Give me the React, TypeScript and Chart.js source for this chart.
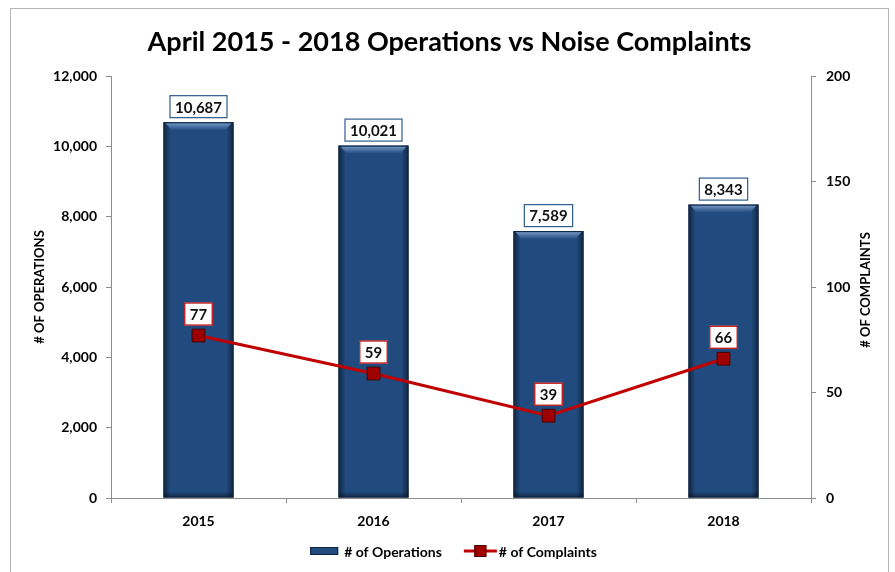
import React, { useEffect, useRef } from 'react';
import { Chart, registerables } from 'chart.js';
Chart.register(...registerables);

const categories = ['2015', '2016', '2017', '2018'];
const operations = [10687, 10021, 7589, 8343];
const complaints = [77, 59, 39, 66];
const opsAxis = { min: 0, max: 12000, step: 2000 };
const complaintsAxis = { min: 0, max: 200, step: 50 };

const titleText = 'April 2015 - 2018 Operations vs Noise Complaints';
const leftTitle = '# OF OPERATIONS';
const rightTitle = '# OF COMPLAINTS';
const legendOps = '# of Operations';
const legendComplaints = '# of Complaints';

const FONT = 'Lato, "Open Sans", "Liberation Sans", sans-serif';
const BAR = '#214a7e';
const BAR_EDGE = '#0e2442';
const RED = '#c00000';
const POINT = '#9e0000';
const AXIS = '#8c8c8c';

const fmt = (v: number) => v.toLocaleString('en-US');

function labelBox(ctx: CanvasRenderingContext2D, cx: number, bottom: number, text: string, border: string) {
  ctx.font = `bold 15px ${FONT}`;
  const tw = ctx.measureText(text).width;
  const w = tw + 11;
  const h = 23;
  const x = cx - w / 2;
  const y = bottom - h;
  ctx.fillStyle = '#ffffff';
  ctx.fillRect(x, y, w, h);
  ctx.strokeStyle = border;
  ctx.lineWidth = 1.2;
  ctx.strokeRect(x + 0.5, y + 0.5, w - 1, h - 1);
  ctx.fillStyle = '#111111';
  ctx.textAlign = 'center';
  ctx.textBaseline = 'middle';
  ctx.fillText(text, cx, y + h / 2 + 1);
}

const overlay = {
  id: 'overlay',
  afterDatasetDraw(chart: any, args: any) {
    if (args.index !== 0) return;
    const ctx: CanvasRenderingContext2D = chart.ctx;
    ctx.save();
    args.meta.data.forEach((bar: any) => {
      const { x, y, base, width } = bar.getProps(['x', 'y', 'base', 'width'], true);
      const l = x - width / 2;
      const r = x + width / 2;
      const e = 7;
      let g = ctx.createLinearGradient(l, 0, l + e, 0);
      g.addColorStop(0, 'rgba(0,0,0,0.5)');
      g.addColorStop(1, 'rgba(0,0,0,0)');
      ctx.fillStyle = g;
      ctx.fillRect(l, y, e, base - y);
      g = ctx.createLinearGradient(r - e, 0, r, 0);
      g.addColorStop(0, 'rgba(0,0,0,0)');
      g.addColorStop(1, 'rgba(0,0,0,0.5)');
      ctx.fillStyle = g;
      ctx.fillRect(r - e, y, e, base - y);
      g = ctx.createLinearGradient(0, base - 6, 0, base);
      g.addColorStop(0, 'rgba(0,0,0,0)');
      g.addColorStop(1, 'rgba(0,0,0,0.45)');
      ctx.fillStyle = g;
      ctx.fillRect(l, base - 6, width, 6);
      g = ctx.createLinearGradient(0, y + 1, 0, y + 8);
      g.addColorStop(0, 'rgba(140,175,220,0.75)');
      g.addColorStop(1, 'rgba(140,175,220,0)');
      ctx.fillStyle = g;
      ctx.beginPath();
      ctx.moveTo(l + 2, y + 1);
      ctx.lineTo(r - 2, y + 1);
      ctx.lineTo(r - 8, y + 8);
      ctx.lineTo(l + 8, y + 8);
      ctx.closePath();
      ctx.fill();
      ctx.strokeStyle = BAR_EDGE;
      ctx.lineWidth = 1;
      ctx.strokeRect(l + 0.5, y + 0.5, width - 1, base - y - 1);
    });
    ctx.restore();
  },
  afterDatasetsDraw(chart: any) {
    const ctx: CanvasRenderingContext2D = chart.ctx;
    ctx.save();
    const bars = chart.getDatasetMeta(0).data;
    bars.forEach((bar: any, i: number) => {
      const { x, y } = bar.getProps(['x', 'y'], true);
      labelBox(ctx, x, y - 4, fmt(operations[i]), '#2f5b8f');
    });
    const pts = chart.getDatasetMeta(1).data;
    pts.forEach((p: any, i: number) => {
      const { x, y } = p.getProps(['x', 'y'], true);
      labelBox(ctx, x, y - 10, fmt(complaints[i]), '#c00000');
    });
    ctx.restore();
  },
  afterDraw(chart: any) {
    const ctx: CanvasRenderingContext2D = chart.ctx;
    const W = chart.width;
    ctx.save();
    ctx.fillStyle = '#000';
    ctx.font = `bold 27px ${FONT}`;
    ctx.textAlign = 'center';
    ctx.textBaseline = 'middle';
    ctx.fillText(titleText, W / 2, 33);
    ctx.font = `bold 13px ${FONT}`;
    ctx.save();
    ctx.translate(29, 278);
    ctx.rotate(-Math.PI / 2);
    ctx.fillText(leftTitle, 0, 0);
    ctx.restore();
    ctx.save();
    ctx.translate(855, 281);
    ctx.rotate(-Math.PI / 2);
    ctx.fillText(rightTitle, 0, 0);
    ctx.restore();
    ctx.font = `bold 14px ${FONT}`;
    const t1 = ctx.measureText(legendOps).width;
    const t2 = ctx.measureText(legendComplaints).width;
    const sw1 = 28, sw2 = 33, gapTxt = 6, gapItems = 22;
    const total = sw1 + gapTxt + t1 + gapItems + sw2 + 2 + t2;
    let x = W / 2 + 4 - total / 2;
    const cy = 542;
    ctx.fillStyle = BAR;
    ctx.fillRect(x, cy - 4, sw1, 8);
    ctx.strokeStyle = BAR_EDGE;
    ctx.lineWidth = 1;
    ctx.strokeRect(x + 0.5, cy - 3.5, sw1 - 1, 7);
    x += sw1 + gapTxt;
    ctx.fillStyle = '#000';
    ctx.textAlign = 'left';
    ctx.fillText(legendOps, x, cy + 1);
    x += t1 + gapItems;
    ctx.strokeStyle = RED;
    ctx.lineWidth = 3;
    ctx.beginPath();
    ctx.moveTo(x, cy);
    ctx.lineTo(x + sw2, cy);
    ctx.stroke();
    ctx.fillStyle = POINT;
    ctx.fillRect(x + sw2 / 2 - 6, cy - 6, 12, 12);
    ctx.strokeStyle = '#4a0000';
    ctx.lineWidth = 1;
    ctx.strokeRect(x + sw2 / 2 - 5.5, cy - 5.5, 11, 11);
    x += sw2 + 2;
    ctx.fillStyle = '#000';
    ctx.fillText(legendComplaints, x, cy + 1);
    ctx.restore();
  },
};

export default function App() {
  const ref = useRef<HTMLCanvasElement>(null);
  useEffect(() => {
    if (!ref.current) return;
    const tickFont = { family: FONT, size: 14, weight: 'bold' as const };
    const chart = new Chart(ref.current, {
      type: 'bar',
      data: {
        labels: categories,
        datasets: [
          {
            type: 'bar',
            label: legendOps,
            data: operations,
            backgroundColor: BAR,
            borderWidth: 0,
            yAxisID: 'y',
            barPercentage: 0.8,
            categoryPercentage: 0.5,
            order: 1,
          },
          {
            type: 'line',
            label: legendComplaints,
            data: complaints,
            borderColor: RED,
            borderWidth: 3,
            pointStyle: 'rect',
            pointRadius: 9,
            pointBackgroundColor: POINT,
            pointBorderColor: '#4a0000',
            pointBorderWidth: 1,
            yAxisID: 'y1',
            order: 0,
          } as any,
        ],
      },
      options: {
        responsive: false,
        animation: false,
        devicePixelRatio: 1,
        layout: { padding: { top: 67, left: 0, right: 0, bottom: 0 } },
        plugins: { legend: { display: false }, tooltip: { enabled: false } },
        scales: {
          x: {
            offset: true,
            grid: { offset: true, drawOnChartArea: false, tickLength: 5, color: AXIS },
            border: { color: AXIS },
            ticks: { font: tickFont, color: '#000', padding: 10 },
            afterFit: (s: any) => { s.height = 83; },
          },
          y: {
            position: 'left',
            min: opsAxis.min,
            max: opsAxis.max,
            ticks: { stepSize: opsAxis.step, font: tickFont, color: '#000', padding: 9, callback: (v: any) => fmt(Number(v)) },
            grid: { drawOnChartArea: false, tickLength: 5, color: AXIS },
            border: { color: AXIS },
            afterFit: (s: any) => { s.width = 100; },
          },
          y1: {
            position: 'right',
            min: complaintsAxis.min,
            max: complaintsAxis.max,
            ticks: { stepSize: complaintsAxis.step, font: tickFont, color: '#000', padding: 10 },
            grid: { drawOnChartArea: false, tickLength: 5, color: AXIS },
            border: { color: AXIS },
            afterFit: (s: any) => { s.width = 77; },
          },
        },
      },
      plugins: [overlay],
    });
    return () => chart.destroy();
  }, []);
  return (
    <div
      style={{
        position: 'fixed',
        left: 10,
        top: 8,
        width: 877,
        height: 600,
        borderTop: '1px solid #b5b5b5',
        borderLeft: '1px solid #b5b5b5',
        borderRight: '1px solid #b5b5b5',
        background: '#fff',
      }}
    >
      <canvas ref={ref} width={877} height={572} style={{ display: 'block' }} />
    </div>
  );
}
